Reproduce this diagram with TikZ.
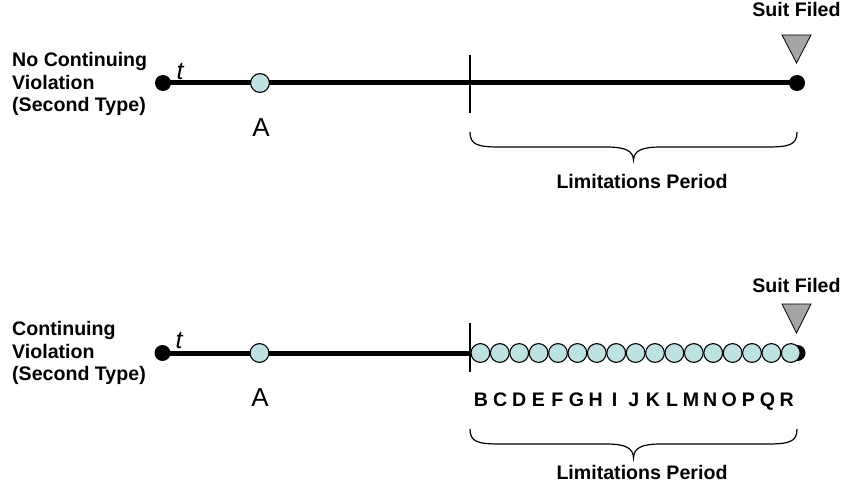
\documentclass[tikz,border=0pt]{standalone}
\usepackage{fontspec}
\setmainfont{Liberation Sans}
\usetikzlibrary{backgrounds}
\definecolor{evc}{RGB}{190,226,226}
\definecolor{trig}{RGB}{165,165,165}
\tikzset{
  x=1pt, y=-1pt,
  tline/.style={line width=5pt},
  thin line/.style={line width=1.2pt},
  bigdot/.style={circle, fill=black, inner sep=0pt, minimum size=16pt},
  evt/.style={circle, draw=black, fill=evc, line width=1.1pt, inner sep=0pt, minimum size=18.8pt},
  lbl/.style={font=\fontsize{19.6}{22.5}\selectfont\bfseries, align=left, inner sep=0pt},
  bold/.style={font=\fontsize{19.6}{22}\selectfont\bfseries, inner sep=0pt},
  big/.style={font=\fontsize{26}{30}\selectfont, inner sep=0pt},
  bigit/.style={font=\fontsize{25}{30}\selectfont\itshape, inner sep=0pt},
  trifill/.style={fill=trig, draw=black, line width=0.8pt, line join=miter},
  brace line/.style={line width=1.2pt}
}
\begin{document}
\begin{tikzpicture}
\useasboundingbox (0,0) rectangle (843,486);

% ---------- Top timeline ----------
\node[lbl, anchor=west] (lab1) at (12,84) {No Continuing\\Violation\\(Second Type)};
\node[bigdot] (s1) at (163,83) {};
\node[bigdot] (e1) at (797,83) {};
\node[evt] (a1) at (260,83) {};
\begin{scope}[on background layer]
  \draw[tline] (s1.center) -- (e1.center);
\end{scope}
\node[bigit, anchor=base] (t1) at (180,80) {t};
\node[big, anchor=base] (al1) at (261,137) {A};
\coordinate (k1a) at (470,55);
\coordinate (k1b) at (470,113);
\draw[thin line] (k1a) -- (k1b);
% Suit filed
\node[bold, anchor=base] (sf1) at (796.5,17) {Suit Filed};
\draw[trifill] (782,35) -- (811,35) -- (796.5,63) -- cycle;
% brace
\draw[brace line] (470,132) .. controls (470,145) and (478,147) .. (500,147)
  -- (606,147) .. controls (626,147) and (633,151) .. (633.5,160)
  .. controls (634,151) and (641,147) .. (661,147)
  -- (767,147) .. controls (789,147) and (797,145) .. (797,132);
\node[bold, anchor=base] (lp1) at (642,189) {Limitations Period};

% ---------- Bottom timeline ----------
\node[lbl, anchor=west] (lab2) at (12,353) {Continuing\\Violation\\(Second Type)};
\node[bigdot] (s2) at (162.5,353) {};
\node[bigdot] (e2) at (797.5,353) {};
\node[evt] (a2) at (259.5,353) {};
\coordinate (k2a) at (470,323);
\coordinate (k2b) at (470,372);
\begin{scope}[on background layer]
  \draw[tline] (s2.center) -- (k2a |- s2);
\end{scope}
\draw[thin line] (k2a) -- (k2b);
\node[bigit, anchor=base] (t2) at (179,348) {t};
\node[big, anchor=base] (al2) at (260,406) {A};
\foreach \l [count=\i from 0] in {B,C,D,E,F,G,H,I,J,K,L,M,N,O,P,Q,R} {
  \node[evt] (c\i) at ({480.4+\i*19.4},353) {};
  \node[bold, anchor=base] (l\i) at ({481+\i*19.1},406) {\l};
}
\node[bold, anchor=base] (sf2) at (796.5,292) {Suit Filed};
\draw[trifill] (782,304) -- (811,304) -- (796.5,333) -- cycle;
\draw[brace line] (470,429) .. controls (470,442) and (478,444) .. (500,444)
  -- (606,444) .. controls (626,444) and (633,448) .. (633.5,458)
  .. controls (634,448) and (641,444) .. (661,444)
  -- (767,444) .. controls (789,444) and (797,442) .. (797,429);
\node[bold, anchor=base] (lp2) at (642,479) {Limitations Period};
\end{tikzpicture}
\end{document}
